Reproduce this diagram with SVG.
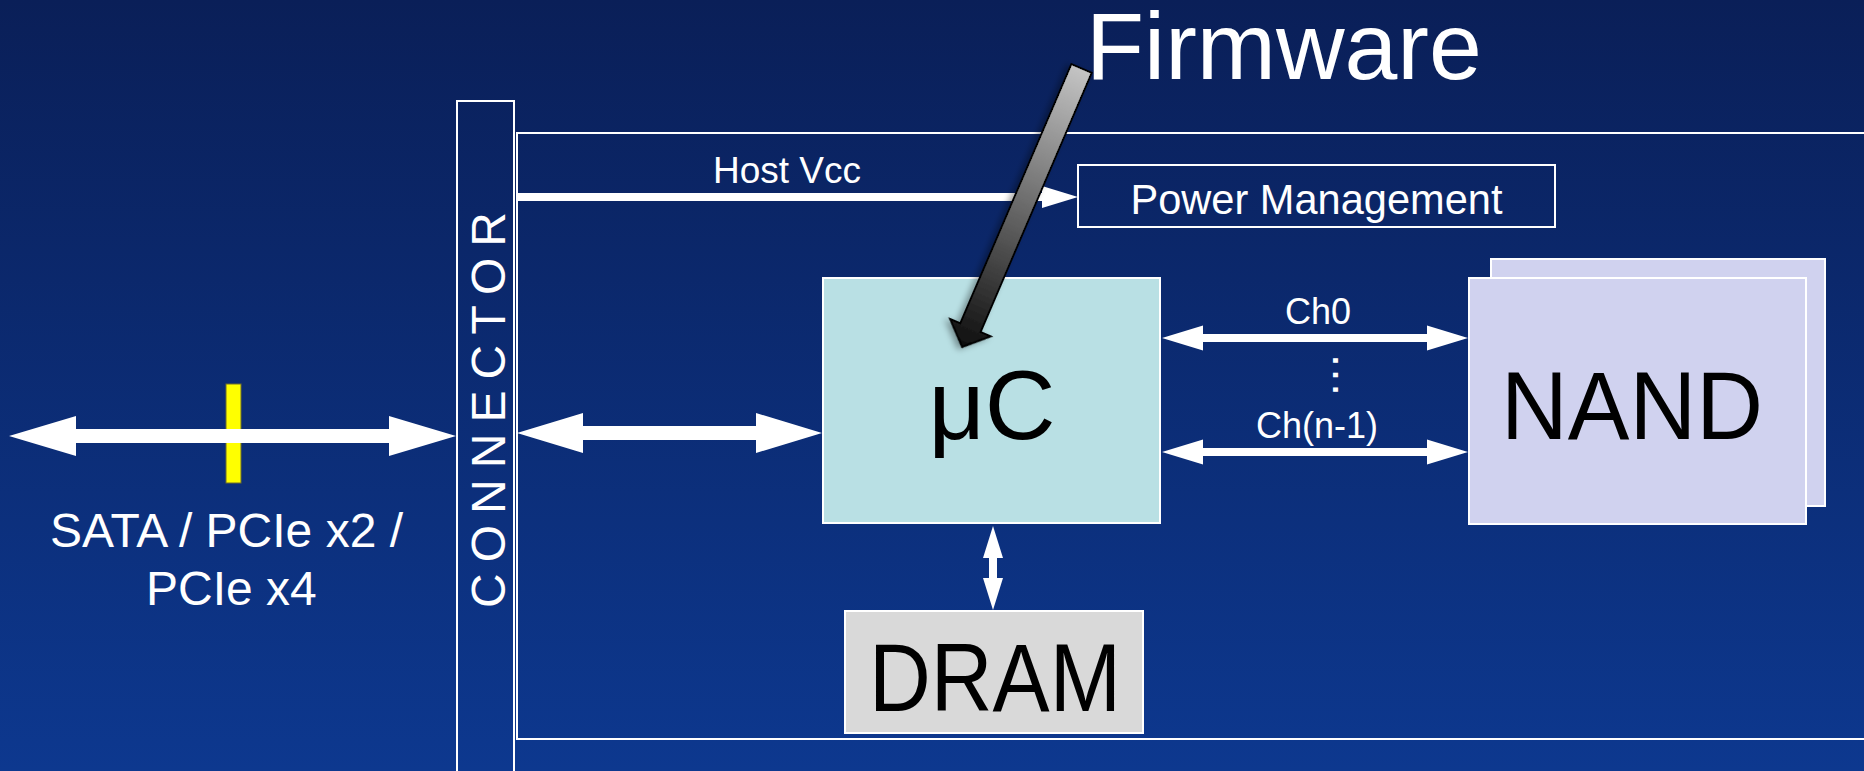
<svg xmlns="http://www.w3.org/2000/svg" width="1864" height="771" viewBox="0 0 1864 771">
<defs>
<linearGradient id="bg" x1="0" y1="0" x2="0" y2="1">
<stop offset="0" stop-color="#0a1f58"/>
<stop offset="1" stop-color="#0d388f"/>
</linearGradient>
<linearGradient id="fwg" x1="0" y1="0" x2="1" y2="0">
<stop offset="0" stop-color="#c4c4c4"/>
<stop offset="1" stop-color="#0e0e0e"/>
</linearGradient>
<filter id="sh" x="-20%" y="-20%" width="140%" height="140%">
<feDropShadow dx="3" dy="3" stdDeviation="3" flood-color="#000" flood-opacity="0.35"/>
</filter>
<style>
.ln{fill:none;stroke:#ffffff;stroke-width:2}
.box{stroke:#ffffff;stroke-width:2}
.w{fill:#ffffff;font-family:"Liberation Sans",Arial,sans-serif}
.k{fill:#000000;font-family:"Liberation Sans",Arial,sans-serif}
.arr{fill:#ffffff}
</style>
</defs>
<rect x="0" y="0" width="1864" height="771" fill="url(#bg)"/>

<g id="board">
<rect class="ln" x="517" y="133" width="1400" height="606"/>
</g>

<g id="connector">
<rect class="ln" x="457" y="101" width="57" height="700"/>
<text class="w" font-size="48" transform="translate(505,608) rotate(-90)" x="0" y="0" textLength="396" lengthAdjust="spacing">C O N N E C T O R</text>
</g>

<g id="interface">
<rect x="226" y="384" width="15" height="99" fill="#ffff00" stroke="#6f6f2a" stroke-width="1"/>
<text class="w" font-size="48" x="50" y="547">SATA / PCIe x2 /</text>
<text class="w" font-size="48" x="146" y="605">PCIe x4</text>
</g>

<g id="power-management">
<rect class="ln" x="1078" y="165" width="477" height="62"/>
<text class="w" font-size="42" x="1316.5" y="214" text-anchor="middle" textLength="372" lengthAdjust="spacingAndGlyphs">Power Management</text>
</g>

<g id="uc">
<rect class="box" x="823" y="278" width="337" height="245" fill="#b9e0e4"/>
<text class="k" font-size="98" x="992" y="439" text-anchor="middle">μC</text>
</g>

<g id="nand">
<rect class="box" x="1491" y="259" width="334" height="247" fill="#d0d2ef"/>
<rect class="box" x="1469" y="278" width="337" height="246" fill="#d0d2ef"/>
<text class="k" font-size="96" x="1632" y="439" text-anchor="middle" textLength="262" lengthAdjust="spacingAndGlyphs">NAND</text>
</g>

<g id="dram">
<rect class="box" x="845" y="611" width="298" height="122" fill="#d9d9d9"/>
<text class="k" font-size="96" x="995" y="711" text-anchor="middle" textLength="252" lengthAdjust="spacingAndGlyphs">DRAM</text>
</g>

<g id="connectors">
<path class="arr" d="M9,436 L76,416 L76,429 L389,429 L389,416 L456,436 L389,456 L389,443 L76,443 L76,456 Z"/>
<path class="arr" d="M517,433 L583,413 L583,426 L756,426 L756,413 L822,433 L756,453 L756,440 L583,440 L583,453 Z"/>
<path class="arr" d="M517,193 L1042,193 L1042,186 L1078,197 L1042,208 L1042,201 L517,201 Z"/>
<text class="w" font-size="37" x="787" y="183" text-anchor="middle">Host Vcc</text>
<path class="arr" d="M1162,338 L1203,325.5 L1203,334 L1427,334 L1427,325.5 L1468,338 L1427,350.5 L1427,342 L1203,342 L1203,350.5 Z"/>
<text class="w" font-size="36" x="1318" y="324" text-anchor="middle">Ch0</text>
<text class="w" font-size="46" transform="translate(1333,375) rotate(90)" x="0" y="0" text-anchor="middle">…</text>
<path class="arr" d="M1162,452 L1203,439.5 L1203,448 L1427,448 L1427,439.5 L1468,452 L1427,464.5 L1427,456 L1203,456 L1203,464.5 Z"/>
<text class="w" font-size="36" x="1317" y="438" text-anchor="middle">Ch(n-1)</text>
<path class="arr" d="M993,526 L1003,558 L997,558 L997,578 L1003,578 L993,610 L983,578 L989,578 L989,558 L983,558 Z"/>
</g>

<g id="firmware">
<text class="w" font-size="95" x="1086" y="79">Firmware</text>
<g transform="translate(1081.5,68.5) rotate(113.2)" filter="url(#sh)">
<polygon points="0,-11 282,-11 282,-22 303,0 282,22 282,11 0,11" fill="url(#fwg)" stroke="#000000" stroke-width="2" stroke-linejoin="miter"/>
</g>
</g>
</svg>
